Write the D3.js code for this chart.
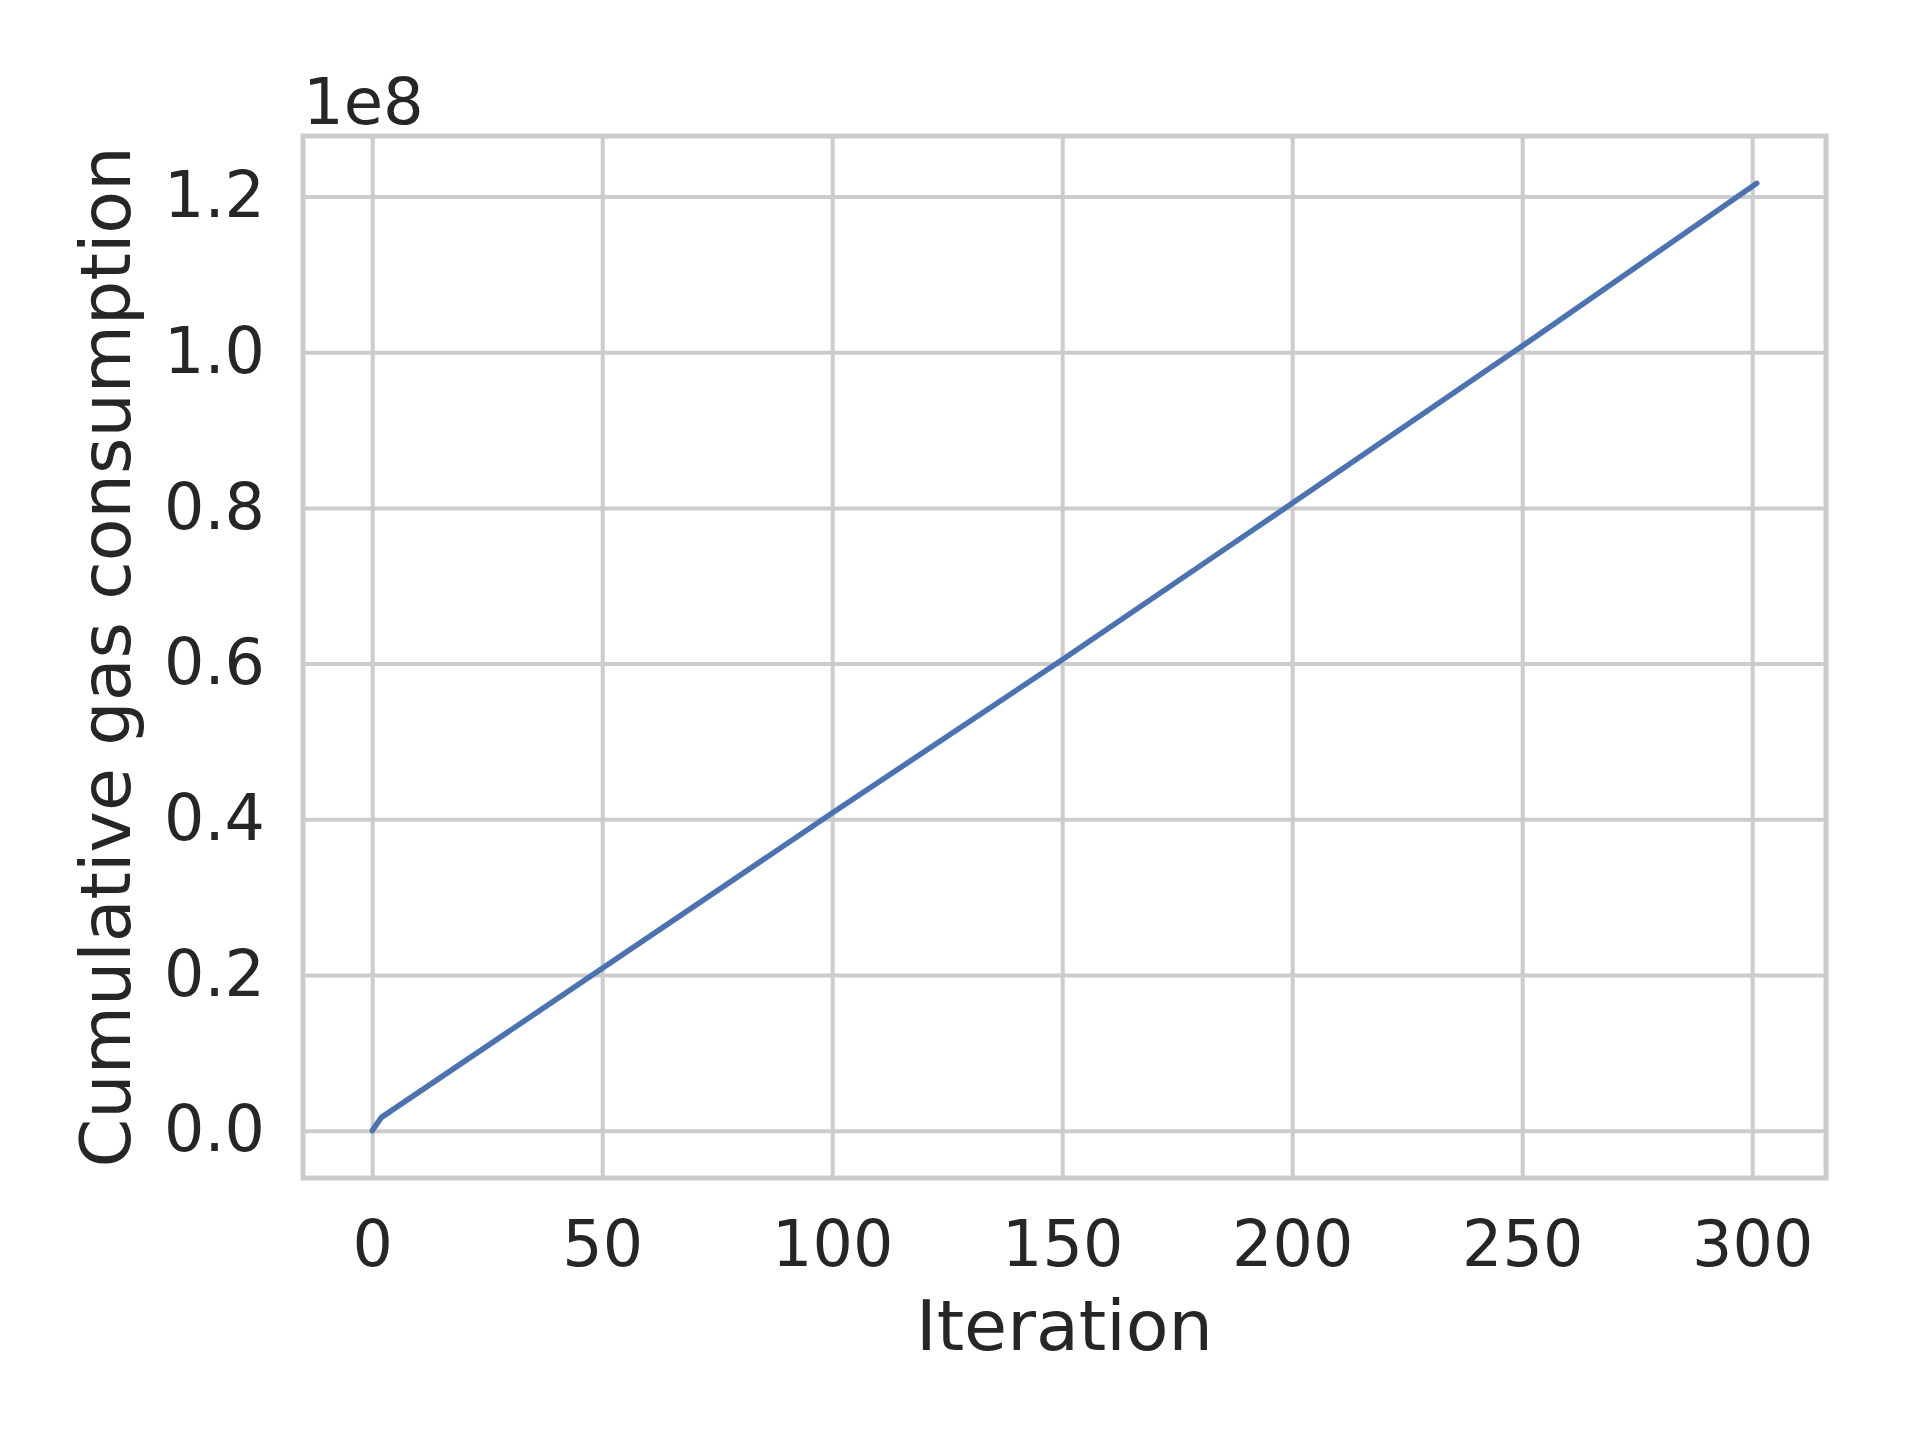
<!DOCTYPE html>
<html>
<head>
<meta charset="utf-8">
<script src="https://cdn.jsdelivr.net/npm/d3@7"></script>
<style>
  html, body { margin: 0; padding: 0; background: #ffffff; }
  svg { display: block; }
  text { font-family: "DejaVu Sans", sans-serif; fill: #262626; }
</style>
</head>
<body>
<script>
// Data
const iterations = [0, 2, 100, 150, 200, 250, 301];
const cumulativeGas = [0, 1.7e6, 4.08e7, 6.05e7, 8.06e7, 1.008e8, 1.217e8];
const xTicks = [0, 50, 100, 150, 200, 250, 300];
const yTicks = [0, 0.2e8, 0.4e8, 0.6e8, 0.8e8, 1.0e8, 1.2e8];
const yTickLabels = ["0.0", "0.2", "0.4", "0.6", "0.8", "1.0", "1.2"];
const xLabel = "Iteration";
const yLabel = "Cumulative gas consumption";
const offsetLabel = "1e8";

const W = 1920, H = 1440;
const plot = { left: 303, right: 1826, top: 136, bottom: 1178 };

const svg = d3.select("body").append("svg").attr("width", W).attr("height", H);

// matplotlib-like 5% margins
const xMin = d3.min(iterations), xMax = d3.max(iterations);
const yMin = d3.min(cumulativeGas), yMax = d3.max(cumulativeGas);
const xPad = (xMax - xMin) * 0.05, yPad = (yMax - yMin) * 0.05;

const x = d3.scaleLinear().domain([xMin - xPad, xMax + xPad]).range([plot.left, plot.right]);
const y = d3.scaleLinear().domain([yMin - yPad, yMax + yPad]).range([plot.bottom, plot.top]);

const gridColor = "#cccccc";
const tickFont = "63.5px";
const labelFont = "70px";

const gx = svg.append("g")
  .attr("transform", `translate(0,${plot.bottom})`)
  .call(d3.axisBottom(x).tickValues(xTicks).tickSize(-(plot.bottom - plot.top)).tickFormat(d => d3.format("d")(d)).tickPadding(43));
gx.select(".domain").remove();
gx.selectAll(".tick line").attr("stroke", gridColor).attr("stroke-width", 4);
gx.selectAll(".tick text").style("font-size", tickFont).attr("fill", "#262626")
  .attr("font-family", "DejaVu Sans");

const gy = svg.append("g")
  .attr("transform", `translate(${plot.left},0)`)
  .call(d3.axisLeft(y).tickValues(yTicks).tickSize(-(plot.right - plot.left)).tickFormat((d, i) => yTickLabels[i]).tickPadding(38));
gy.select(".domain").remove();
gy.selectAll(".tick line").attr("stroke", gridColor).attr("stroke-width", 4);
gy.selectAll(".tick text").style("font-size", tickFont).attr("fill", "#262626")
  .attr("font-family", "DejaVu Sans");

// Frame
svg.append("rect")
  .attr("x", plot.left).attr("y", plot.top)
  .attr("width", plot.right - plot.left).attr("height", plot.bottom - plot.top)
  .attr("fill", "none").attr("stroke", gridColor).attr("stroke-width", 5);

// Line
const data = iterations.map((d, i) => [d, cumulativeGas[i]]);
svg.append("path")
  .datum(data)
  .attr("fill", "none")
  .attr("stroke", "#4c72b0")
  .attr("stroke-width", 5.5)
  .attr("stroke-linecap", "round")
  .attr("stroke-linejoin", "round")
  .attr("d", d3.line().x(d => x(d[0])).y(d => y(d[1])));

// Labels
svg.append("text")
  .attr("x", (plot.left + plot.right) / 2).attr("y", 1350)
  .attr("text-anchor", "middle").style("font-size", labelFont)
  .text(xLabel);

svg.append("text")
  .attr("transform", `translate(130,${(plot.top + plot.bottom) / 2}) rotate(-90)`)
  .attr("text-anchor", "middle").style("font-size", labelFont)
  .text(yLabel);

svg.append("text")
  .attr("x", plot.left).attr("y", 124)
  .attr("text-anchor", "start").style("font-size", "64px")
  .text(offsetLabel);
</script>
</body>
</html>
